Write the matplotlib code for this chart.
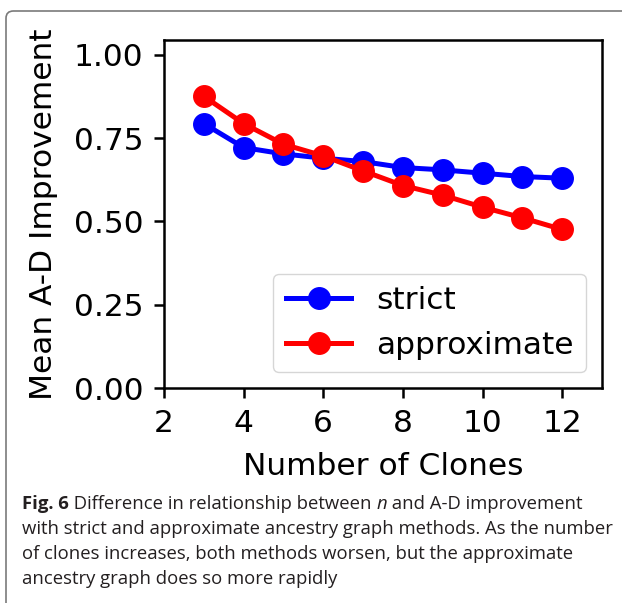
import matplotlib
matplotlib.use('Agg')
import matplotlib.pyplot as plt
from matplotlib.patches import FancyBboxPatch

# Data
clones = [3, 4, 5, 6, 7, 8, 9, 10, 11, 12]
strict = [0.794, 0.722, 0.703, 0.690, 0.680, 0.662, 0.655, 0.645, 0.635, 0.630]
approximate = [0.876, 0.794, 0.732, 0.697, 0.652, 0.608, 0.579, 0.543, 0.511, 0.476]
xticks = [2, 4, 6, 8, 10, 12]
yticks = [0.00, 0.25, 0.50, 0.75, 1.00]

fig = plt.figure(figsize=(6.22, 6.03), dpi=100)

# gray panel border with rounded corner
frame = FancyBboxPatch((6 / 622, -0.2), 1.2, 1.2 - 11 / 603,
                       boxstyle='round,pad=0,rounding_size=0.012',
                       transform=fig.transFigure, facecolor='none',
                       edgecolor='#7a7a7a', linewidth=1.2, clip_on=False)
fig.patches.append(frame)

fs = 22.5
ax = fig.add_axes([164 / 622, 215 / 603, 438 / 622, 348 / 603])
ax.plot(clones, strict, color='blue', marker='o', markersize=15.5, linewidth=3.6, label='strict')
ax.plot(clones, approximate, color='red', marker='o', markersize=15.5, linewidth=3.6, label='approximate')

ax.set_xlim(2, 13)
ax.set_ylim(0, 1.045)
ax.set_xticks(xticks)
ax.set_yticks(yticks)
ax.set_yticklabels(['%.2f' % v for v in yticks])
ax.tick_params(labelsize=fs, width=1.8, length=7.5, pad=7.5)
for s in ax.spines.values():
    s.set_linewidth(1.8)
ax.set_xlabel('Number of Clones', fontsize=fs, labelpad=10)
ax.set_ylabel('Mean A-D Improvement', fontsize=fs, labelpad=11)
ax.legend(loc='lower right', fontsize=fs, handlelength=2.1)

# caption, written in pieces so bold and italic parts can sit inline
cap_font = 'Open Sans'
cap_size = 13.3
line_y = [504, 529, 554, 579]
lines = [
    [('Fig. 6', 'bold', 'normal'), (' Difference in relationship between ', 'normal', 'normal'),
     ('n', 'normal', 'italic'), (' and A-D improvement', 'normal', 'normal')],
    [('with strict and approximate ancestry graph methods. As the number', 'normal', 'normal')],
    [('of clones increases, both methods worsen, but the approximate', 'normal', 'normal')],
    [('ancestry graph does so more rapidly', 'normal', 'normal')],
]
renderer = fig.canvas.get_renderer()
for yy, parts in zip(line_y, lines):
    x = 22
    for txt, weight, style in parts:
        t = fig.text(x / 622, 1 - yy / 603, txt, fontsize=cap_size, family=cap_font,
                     weight=weight, style=style, va='center', ha='left', color='#231f20')
        x = t.get_window_extent(renderer).x1

fig.savefig('out.png', dpi=100)
